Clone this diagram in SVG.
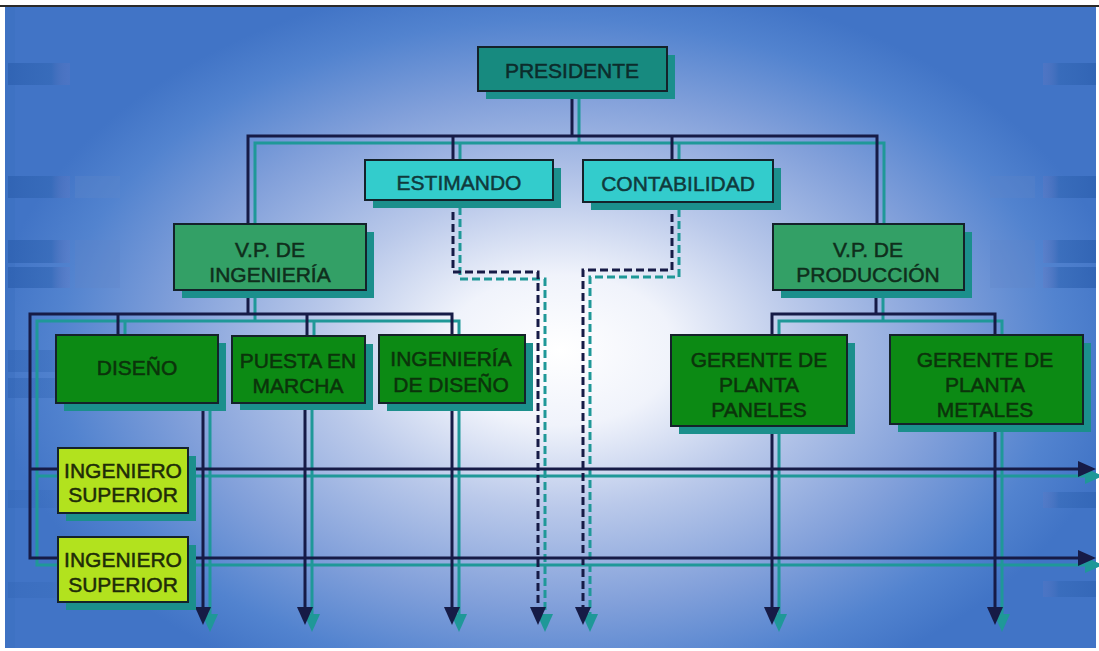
<svg xmlns="http://www.w3.org/2000/svg" width="1099" height="651" viewBox="0 0 1099 651">
<defs>
  <radialGradient id="bg" cx="560" cy="350" r="570" gradientUnits="userSpaceOnUse" gradientTransform="translate(560 350) scale(1 0.66) translate(-560 -350)">
    <stop offset="0" stop-color="#ffffff"/>
    <stop offset="0.2" stop-color="#f0f3fb"/>
    <stop offset="0.42" stop-color="#bac9ea"/>
    <stop offset="0.68" stop-color="#82a0da"/>
    <stop offset="0.88" stop-color="#5283cf"/>
    <stop offset="1" stop-color="#4174c6"/>
  </radialGradient>
  <linearGradient id="stripeL" x1="0" y1="0" x2="1" y2="0">
    <stop offset="0" stop-color="#2f62b2" stop-opacity="0.85"/>
    <stop offset="0.7" stop-color="#3468b6" stop-opacity="0.7"/>
    <stop offset="1" stop-color="#6a78c0" stop-opacity="0.25"/>
  </linearGradient>
  <linearGradient id="stripeR" x1="1" y1="0" x2="0" y2="0">
    <stop offset="0" stop-color="#2f62b2" stop-opacity="0.85"/>
    <stop offset="0.7" stop-color="#3468b6" stop-opacity="0.7"/>
    <stop offset="1" stop-color="#6a78c0" stop-opacity="0.3"/>
  </linearGradient>
  <style>
    .wire { fill: none; stroke-width: 3; }
    .dash { fill: none; stroke-width: 3; stroke-dasharray: 8 4; }
    .head { stroke: none; }
    .shadowline { stroke: #1f9898; fill: #1f9898; }
    .mainline { stroke: #161b46; fill: #161b46; }
    .box { stroke: #14222a; stroke-width: 2; }
    .shd { fill: #1b8f8c; }
    .t { font-family: "Liberation Sans", Arial, sans-serif; font-size: 21px; text-anchor: middle; stroke-width: 0.5; }
    .pres { fill: #178a7f; }
    .cyan { fill: #33cccc; }
    .vp { fill: #33a066; }
    .dg { fill: #0c8a14; }
    .yg { fill: #b2e21e; }
    .tpres { fill: #0c2c2c; stroke: #0c2c2c; }
    .tcyan { fill: #103a3c; stroke: #103a3c; }
    .tvp { fill: #0f2e1c; stroke: #0f2e1c; }
    .tdg { fill: #0b330b; stroke: #0b330b; }
    .tyg { fill: #1e2c08; stroke: #1e2c08; }
  </style>
  <g id="wires">
    <path class="wire" d="M572 91 V136"/>
    <path class="wire" d="M248 224 V136 H877 V224"/>
    <path class="wire" d="M453 136 V160"/>
    <path class="wire" d="M672 136 V160"/>
    <path class="wire" d="M248 290 V314"/>
    <path class="wire" d="M452 335 V314 H30 V558 H1080"/>
    <path class="wire" d="M30 469 H1080"/>
    <path class="wire" d="M118 314 V335"/>
    <path class="wire" d="M307 314 V335"/>
    <path class="wire" d="M876 290 V314"/>
    <path class="wire" d="M772 608 V314 H995 V608"/>
    <path class="wire" d="M203 403 V608"/>
    <path class="wire" d="M305 403 V608"/>
    <path class="wire" d="M452 403 V608"/>
    <path class="dash" d="M453 200 V272 H538 V608"/>
    <path class="dash" d="M672 202 V270 H583 V608"/>
    <polygon class="head" points="195,607 211,607 203,625"/>
    <polygon class="head" points="297,607 313,607 305,625"/>
    <polygon class="head" points="444,607 460,607 452,625"/>
    <polygon class="head" points="530,607 546,607 538,625"/>
    <polygon class="head" points="575,607 591,607 583,625"/>
    <polygon class="head" points="764,607 780,607 772,625"/>
    <polygon class="head" points="987,607 1003,607 995,625"/>
    <polygon class="head" points="1078,461 1078,477 1096,469"/>
    <polygon class="head" points="1078,550 1078,566 1096,558"/>
  </g>
</defs>

<g id="background">
  <rect x="0" y="0" width="1099" height="651" fill="#ffffff"/>
  <rect x="5" y="7" width="1091" height="641" fill="url(#bg)"/>
  <line x1="0" y1="6" x2="1099" y2="6" stroke="#2a2a2a" stroke-width="2"/>
  <rect x="5" y="7" width="10" height="641" fill="#3b6fc0" opacity="0.5"/>
  <rect x="8" y="63" width="62" height="22" fill="url(#stripeL)"/>
  <rect x="8" y="176" width="62" height="22" fill="url(#stripeL)"/>
  <rect x="8" y="240" width="62" height="23" fill="url(#stripeL)"/>
  <rect x="8" y="267" width="62" height="21" fill="url(#stripeL)"/>
  <rect x="8" y="350" width="62" height="22" fill="url(#stripeL)" opacity="0.6"/>
  <rect x="8" y="378" width="62" height="20" fill="url(#stripeL)" opacity="0.6"/>
  <rect x="8" y="490" width="62" height="18" fill="url(#stripeL)" opacity="0.4"/>
  <rect x="8" y="582" width="62" height="16" fill="url(#stripeL)" opacity="0.4"/>
  <rect x="75" y="176" width="45" height="22" fill="#5f86c8" opacity="0.35"/>
  <rect x="75" y="240" width="45" height="48" fill="#5f86c8" opacity="0.3"/>
  <rect x="1043" y="63" width="53" height="22" fill="url(#stripeR)"/>
  <rect x="1043" y="176" width="53" height="22" fill="url(#stripeR)"/>
  <rect x="1043" y="240" width="53" height="23" fill="url(#stripeR)"/>
  <rect x="1043" y="267" width="53" height="21" fill="url(#stripeR)"/>
  <rect x="1043" y="492" width="53" height="16" fill="url(#stripeR)" opacity="0.8"/>
  <rect x="1043" y="581" width="53" height="16" fill="url(#stripeR)" opacity="0.8"/>
  <rect x="990" y="176" width="45" height="22" fill="#5f86c8" opacity="0.3"/>
  <rect x="990" y="240" width="45" height="48" fill="#5f86c8" opacity="0.3"/>
</g>

<g id="connectors">
  <use href="#wires" class="shadowline" transform="translate(7,7)"/>
  <use href="#wires" class="mainline"/>
</g>

<g id="presidente">
  <rect class="shd" x="486" y="55" width="189" height="44"/>
  <rect class="box pres" x="478" y="47" width="189" height="44"/>
  <text class="t tpres" x="572" y="78">PRESIDENTE</text>
</g>
<g id="estimando">
  <rect class="shd" x="373" y="168" width="188" height="40"/>
  <rect class="box cyan" x="365" y="160" width="188" height="40"/>
  <text class="t tcyan" x="459" y="190">ESTIMANDO</text>
</g>
<g id="contabilidad">
  <rect class="shd" x="591" y="168" width="190" height="42"/>
  <rect class="box cyan" x="583" y="160" width="190" height="42"/>
  <text class="t tcyan" x="678" y="191">CONTABILIDAD</text>
</g>
<g id="vp-ingenieria">
  <rect class="shd" x="182" y="232" width="192" height="66"/>
  <rect class="box vp" x="174" y="224" width="192" height="66"/>
  <text class="t tvp" x="270" y="257">V.P. DE</text>
  <text class="t tvp" x="270" y="282">INGENIERÍA</text>
</g>
<g id="vp-produccion">
  <rect class="shd" x="781" y="232" width="191" height="66"/>
  <rect class="box vp" x="773" y="224" width="191" height="66"/>
  <text class="t tvp" x="868" y="257">V.P. DE</text>
  <text class="t tvp" x="868" y="282">PRODUCCIÓN</text>
</g>
<g id="diseno">
  <rect class="shd" x="64" y="343" width="162" height="68"/>
  <rect class="box dg" x="56" y="335" width="162" height="68"/>
  <text class="t tdg" x="137" y="375">DISEÑO</text>
</g>
<g id="puesta-en-marcha">
  <rect class="shd" x="240" y="344" width="133" height="66"/>
  <rect class="box dg" x="232" y="336" width="133" height="67"/>
  <text class="t tdg" x="298" y="368">PUESTA EN</text>
  <text class="t tdg" x="298" y="393">MARCHA</text>
</g>
<g id="ingenieria-de-diseno">
  <rect class="shd" x="387" y="343" width="146" height="68"/>
  <rect class="box dg" x="379" y="335" width="146" height="68"/>
  <text class="t tdg" x="451" y="366">INGENIERÍA</text>
  <text class="t tdg" x="451" y="392">DE DISEÑO</text>
</g>
<g id="gerente-paneles">
  <rect class="shd" x="679" y="343" width="176" height="91"/>
  <rect class="box dg" x="671" y="335" width="176" height="91"/>
  <text class="t tdg" x="759" y="367">GERENTE DE</text>
  <text class="t tdg" x="759" y="392">PLANTA</text>
  <text class="t tdg" x="759" y="417">PANELES</text>
</g>
<g id="gerente-metales">
  <rect class="shd" x="898" y="343" width="193" height="89"/>
  <rect class="box dg" x="890" y="335" width="193" height="89"/>
  <text class="t tdg" x="985" y="367">GERENTE DE</text>
  <text class="t tdg" x="985" y="392">PLANTA</text>
  <text class="t tdg" x="985" y="417">METALES</text>
</g>
<g id="ingeniero-superior-1">
  <rect class="shd" x="66" y="456" width="130" height="65"/>
  <rect class="box yg" x="58" y="448" width="130" height="65"/>
  <text class="t tyg" x="123" y="478">INGENIERO</text>
  <text class="t tyg" x="123" y="502">SUPERIOR</text>
</g>
<g id="ingeniero-superior-2">
  <rect class="shd" x="66" y="545" width="130" height="65"/>
  <rect class="box yg" x="58" y="537" width="130" height="65"/>
  <text class="t tyg" x="123" y="567">INGENIERO</text>
  <text class="t tyg" x="123" y="592">SUPERIOR</text>
</g>
</svg>
